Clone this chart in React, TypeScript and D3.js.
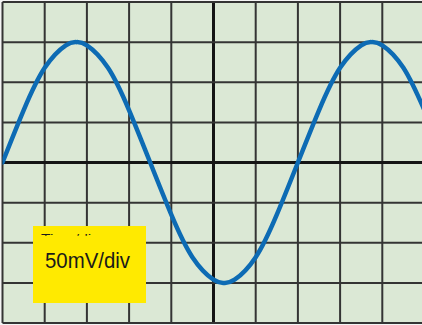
import React from "react";
import * as d3 from "d3";

// Trace: time in divisions, voltage in mV (50 mV/div)
const timeDiv = [0, 0.5, 1, 1.5, 1.75, 2, 2.5, 3, 3.5, 4, 4.5, 5, 5.25, 5.5, 6, 6.5, 7, 7.5, 8, 8.5, 8.75, 9, 9.5, 10];
const voltsMv = [0, 65, 118, 146, 150, 146, 118, 65, 0, -65, -118, -146, -150, -146, -118, -65, 0, 65, 118, 146, 150, 146, 118, 65];

const xDivTicks = [0, 1, 2, 3, 4, 5, 6, 7, 8, 9, 10];
const yDivTicks = [-200, -150, -100, -50, 0, 50, 100, 150, 200];

const scaleLabel = "50mV/div";
const hiddenLabel = "Time/div";

const W = 422;
const H = 325;

export default function App() {
  const x = d3.scaleLinear().domain([0, 10]).range([2.5, 2.5 + 422]);
  const y = d3.scaleLinear().domain([-200, 200]).range([323, 2]);

  const pts: [number, number][] = timeDiv.map((t, i) => [t, voltsMv[i]]);
  const line = d3
    .line<[number, number]>()
    .x((d) => x(d[0]))
    .y((d) => y(d[1]))
    .curve(d3.curveNatural);

  return (
    <svg
      width={W}
      height={H}
      style={{ position: "fixed", left: 0, top: 0, display: "block", background: "#f4f4f4" }}
    >
      <defs>
        <clipPath id="plot">
          <rect x={x(0)} y={y(200)} width={W} height={y(-200) - y(200)} />
        </clipPath>
        <clipPath id="hidden">
          <rect x={33} y={233.8} width={113} height={2} />
        </clipPath>
      </defs>
      <rect x={x(0)} y={y(200)} width={W} height={y(-200) - y(200)} fill="#dbe8d5" />
      <g>
        {xDivTicks.map((t) => (
          <line
            key={"vx" + t}
            x1={x(t)}
            x2={x(t)}
            y1={y(200)}
            y2={y(-200)}
            stroke={t === 5 ? "#151515" : "#343434"}
            strokeWidth={t === 5 ? 3 : 2}
          />
        ))}
        {yDivTicks.map((v) => (
          <line
            key={"hy" + v}
            x1={x(0)}
            x2={W}
            y1={y(v)}
            y2={y(v)}
            stroke={v === 0 ? "#151515" : "#343434"}
            strokeWidth={v === 0 ? 3 : 2}
          />
        ))}
      </g>
      <path
        d={line(pts) || ""}
        fill="none"
        stroke="#0d6bb4"
        strokeWidth={4.5}
        strokeLinecap="round"
        clipPath="url(#plot)"
      />
      <rect x={33} y={226} width={113} height={77} fill="#ffea00" />
      <text
        x={41}
        y={243}
        fontFamily="Arial, 'Liberation Sans', sans-serif"
        fontSize={12}
        fill="#1a1a1a"
        textLength={58}
        lengthAdjust="spacingAndGlyphs"
        clipPath="url(#hidden)"
      >
        {hiddenLabel}
      </text>
      <text
        x={45}
        y={268}
        fontFamily="Arial, 'Liberation Sans', sans-serif"
        fontSize={22}
        fill="#1a1a1a"
        textLength={85}
        lengthAdjust="spacingAndGlyphs"
      >
        {scaleLabel}
      </text>
    </svg>
  );
}
